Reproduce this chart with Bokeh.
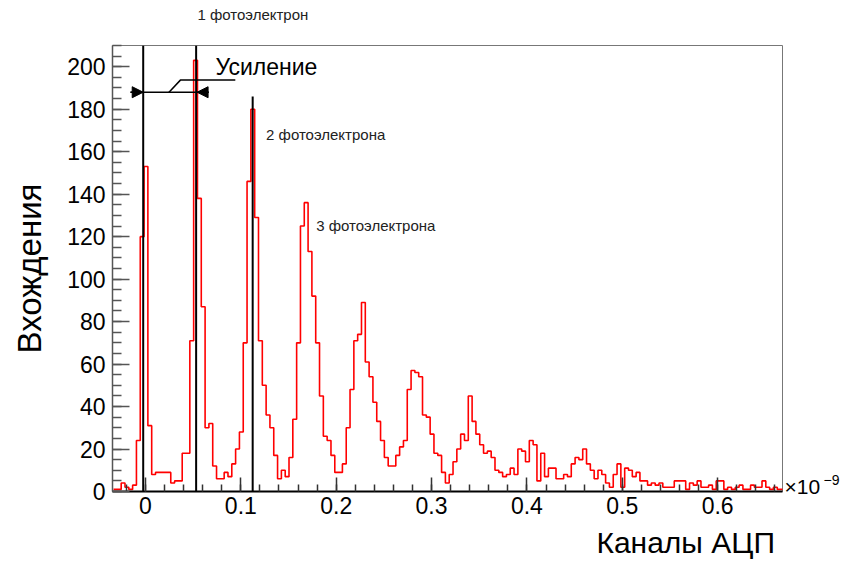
import numpy as np
from bokeh.plotting import figure
from bokeh.models import (Range1d, Label, Arrow, NormalHead, FixedTicker,
                          SingleIntervalTicker, LinearAxis)
from bokeh.embed import file_html
from bokeh.resources import INLINE

# ---------------- data ----------------
counts = [
    1, 1, 4, 2, 1, 3, 24, 120, 153, 31,
    8, 9, 9, 9, 9, 4, 5, 5, 18, 18,
    71, 203, 138, 87, 30, 32, 12, 6, 6, 9,
    7, 13, 20, 28, 70, 146, 180, 129, 71, 50,
    36, 30, 17, 6, 10, 7, 16, 34, 70, 125,
    136, 113, 92, 70, 45, 26, 24, 17, 9, 9,
    13, 30, 48, 71, 74, 89, 61, 54, 42, 33,
    24, 16, 12, 12, 17, 21, 24, 48, 57, 56,
    54, 36, 35, 27, 18, 17, 9, 4, 8, 14,
    20, 27, 24, 45, 33, 27, 22, 18, 19, 16,
    10, 9, 7, 8, 11, 8, 20, 19, 14, 24,
    22, 5, 18, 7, 11, 11, 6, 6, 8, 7,
    13, 16, 15, 20, 13, 10, 6, 10, 8, 4,
    2, 8, 13, 2, 11, 10, 7, 9, 5, 5,
    3, 4, 3, 4, 2, 2, 2, 5, 5, 5,
    1, 4, 3, 5, 2, 2, 3, 1, 5, 5,
    1, 2, 1, 2, 3, 1, 1, 3, 2, 2,
    5, 2, 1, 2, 1, 1,
]
bin_start = -0.0335
bin_width = 0.004

x_ticks = [0, 0.1, 0.2, 0.3, 0.4, 0.5, 0.6]
x_tick_labels = ["0", "0.1", "0.2", "0.3", "0.4", "0.5", "0.6"]

# peak marker lines (x position, top)
peak_marker_x = [-0.0024, 0.0531, 0.1124]
peak_marker_top = [210, 210, 186]

# gain dimension arrow
gain_arrow_x = [-0.0157, -0.0024, 0.0541, 0.0663]
gain_arrow_y = 188
gain_leader_x = [0.0244, 0.0366, 0.0942]
gain_leader_y = [187.9, 193.7, 193.7]

# annotation texts inside the frame: (text, x, y, size, color)
notes = [
    ("Усиление", 0.0733, 199.7, "23px", "black"),
    ("2 фотоэлектрона", 0.1264, 168.3, "15px", "#222222"),
    ("3 фотоэлектрона", 0.1790, 125.2, "15px", "#222222"),
]
top_note = "1 фотоэлектрон"
top_note_x = 0.1126
x_title = "Каналы АЦП"
x_title_x = 0.5665
y_title = "Вхождения"
x_exponent_base = "×10"
x_exponent = "−9"

FONT = "Liberation Sans"

# ---------------- figure ----------------
p = figure(width=842, height=565, output_backend="svg", toolbar_location=None,
           x_range=Range1d(-0.0346, 0.668), y_range=Range1d(0, 210),
           min_border_left=112, min_border_right=59,
           min_border_top=45, min_border_bottom=74)
p.grid.visible = False
p.outline_line_color = "#777777"
p.outline_line_width = 1
p.background_fill_color = "white"
p.border_fill_color = "white"

edges = [bin_start + i * bin_width for i in range(len(counts) + 1)]
p.step(edges, counts + [counts[-1]], mode="after", line_color="#ff0000",
       line_width=1.6)

p.segment(x0=peak_marker_x, y0=[0] * 3, x1=peak_marker_x, y1=peak_marker_top,
          line_color="black", line_width=2)

# gain arrow
p.segment(x0=[gain_arrow_x[0]], y0=[gain_arrow_y], x1=[gain_arrow_x[3]],
          y1=[gain_arrow_y], line_color="black", line_width=1.5)
p.add_layout(Arrow(end=NormalHead(size=11, fill_color="black", line_color="black"),
                   x_start=gain_arrow_x[0], y_start=gain_arrow_y,
                   x_end=gain_arrow_x[1], y_end=gain_arrow_y,
                   line_color="black", line_width=1.5))
p.add_layout(Arrow(end=NormalHead(size=11, fill_color="black", line_color="black"),
                   x_start=gain_arrow_x[3], y_start=gain_arrow_y,
                   x_end=gain_arrow_x[2], y_end=gain_arrow_y,
                   line_color="black", line_width=1.5))
p.line(gain_leader_x, gain_leader_y, line_color="black", line_width=1.5)

for txt, x, y, size, col in notes:
    p.add_layout(Label(x=x, y=y, text=txt, text_font=FONT, text_font_size=size,
                       text_align="left", text_baseline="middle",
                       text_color=col))

# axes
xa = p.xaxis[0]
xa.ticker = FixedTicker(ticks=x_ticks,
                        minor_ticks=[round(v, 3) for v in np.arange(-0.02, 0.67, 0.02)])
xa.major_label_overrides = {t: l for t, l in zip(x_ticks, x_tick_labels)}
xa.major_label_text_font = FONT
xa.major_label_text_font_size = "23px"
xa.major_label_text_color = "black"
xa.major_label_standoff = 5
xa.major_tick_in = 14
xa.major_tick_out = 0
xa.minor_tick_in = 7
xa.minor_tick_out = 0
xa.axis_line_color = "black"
xa.axis_line_width = 2
xa.major_tick_line_color = "#333333"
xa.minor_tick_line_color = "#333333"
xa.major_tick_line_width = 1.5
xa.minor_tick_line_width = 1.5

ya = p.yaxis[0]
ya.ticker = SingleIntervalTicker(interval=20, num_minor_ticks=4)
ya.major_label_text_font = FONT
ya.major_label_text_font_size = "23px"
ya.major_label_text_color = "black"
ya.major_label_standoff = 7
ya.major_tick_in = 17
ya.major_tick_out = 0
ya.minor_tick_in = 9
ya.minor_tick_out = 0
ya.axis_line_color = "#555555"
ya.axis_line_width = 1.5
ya.major_tick_line_color = "#555555"
ya.minor_tick_line_color = "#555555"
ya.major_tick_line_width = 1.5
ya.minor_tick_line_width = 1.5
ya.axis_label = y_title
ya.axis_label_text_font = FONT
ya.axis_label_text_font_size = "33px"
ya.axis_label_text_font_style = "normal"
ya.axis_label_text_color = "black"
ya.axis_label_standoff = 16


# single-label helper axes for texts outside the frame
def label_axis(side, tick, text, size, standoff, color="black"):
    ax = LinearAxis(ticker=FixedTicker(ticks=[tick], minor_ticks=[]),
                    major_label_overrides={tick: text},
                    major_label_text_font=FONT, major_label_text_font_size=size,
                    major_label_text_color=color,
                    major_label_standoff=standoff,
                    major_tick_in=0, major_tick_out=0,
                    minor_tick_in=0, minor_tick_out=0,
                    axis_line_color=None, major_tick_line_color=None,
                    minor_tick_line_color=None)
    p.add_layout(ax, side)


label_axis("right", 2.4, x_exponent_base, "21px", 2)
label_axis("right", 5.4, x_exponent, "14px", 0)
label_axis("below", x_title_x, x_title, "30px", 9)
label_axis("above", top_note_x, top_note, "15px", 23, "#222222")

open("out.html", "w").write(file_html(p, INLINE))
